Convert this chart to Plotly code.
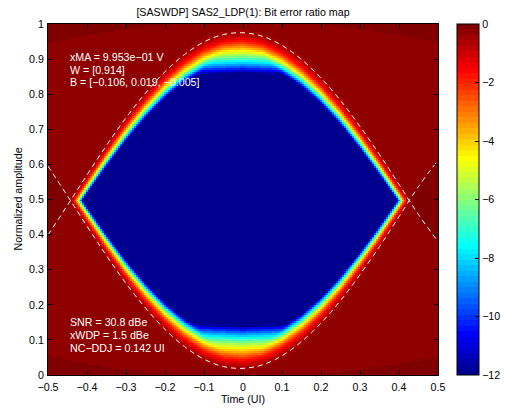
import math
import numpy as np
import plotly.graph_objects as go

# ---- data ----
time_pts = [-0.5, -0.45, -0.4, -0.35, -0.3, -0.25, -0.2, -0.15, -0.1, -0.05, 0.0,
            0.05, 0.1, 0.15, 0.2, 0.25, 0.3, 0.35, 0.4, 0.45, 0.5]
eye_upper = [0.399, 0.484, 0.570, 0.654, 0.733, 0.803, 0.864, 0.913, 0.949, 0.970, 0.975,
             0.965, 0.939, 0.899, 0.846, 0.782, 0.708, 0.628, 0.543, 0.457, 0.380]
eye_lower = [0.595, 0.510, 0.424, 0.340, 0.261, 0.191, 0.130, 0.081, 0.045, 0.024, 0.019,
             0.029, 0.055, 0.095, 0.148, 0.212, 0.286, 0.366, 0.451, 0.537, 0.612]
outer_time = [-0.5, -0.4, -0.3, -0.2, -0.1, 0.0, 0.1, 0.2, 0.3, 0.4, 0.5]
outer_upper = [0.930, 0.955, 0.972, 0.985, 0.993, 0.997, 0.993, 0.985, 0.972, 0.955, 0.935]
outer_lower = [0.070, 0.045, 0.028, 0.015, 0.007, 0.003, 0.007, 0.015, 0.028, 0.045, 0.065]
ber_min_log, ber_max_log = -12, 0
x_ticks = [-0.5, -0.4, -0.3, -0.2, -0.1, 0, 0.1, 0.2, 0.3, 0.4, 0.5]
y_ticks = [0, 0.1, 0.2, 0.3, 0.4, 0.5, 0.6, 0.7, 0.8, 0.9, 1]
cbar_ticks = [0, -2, -4, -6, -8, -10, -12]
title_text = "[SASWDP] SAS2_LDP(1): Bit error ratio map"
x_title = "Time (UI)"
y_title = "Normalized amplitude"
info_top = ["xMA = 9.953e\u221201 V", "W = [0.914]", "B = [\u22120.106, 0.019, \u22120.005]"]
info_bottom = ["SNR = 30.8 dBe", "xWDP = 1.5 dBe", "NC\u2212DDJ = 0.142 UI"]

# ---- BER map built from the eye contours ----
nx, ny = 195, 176
xs = -0.5 + (np.arange(nx) + 0.5) / nx
ys = (np.arange(ny) + 0.5) / ny
cu = np.interp(xs, time_pts, eye_upper)
cl = np.interp(xs, time_pts, eye_lower)
ou = np.interp(xs, outer_time, outer_upper)
ol = np.interp(xs, outer_time, outer_lower)
X, V = np.meshgrid(xs, ys)
CU = cu[None, :]; CL = cl[None, :]
OU = ou[None, :]; OL = ol[None, :]
S = 0.0075 + 0.0045 * np.clip(np.abs(V - 0.5) / 0.39, 0, 1)
erfc = np.vectorize(math.erfc)
def Q(a):
    return 0.5 * erfc(a / math.sqrt(2))
ber = 0.5 * Q((CU - V) / S) + 0.5 * Q((V - CL) / S) \
    + 0.2 * Q((OU - V) / 0.02) + 0.2 * Q((V - OL) / 0.02)
z = np.clip(np.log10(np.maximum(ber, 1e-14)), ber_min_log, ber_max_log)

# ---- MATLAB jet(64) colormap ----
def jet(m=64):
    n = math.ceil(m / 4)
    u = list(np.arange(1, n + 1) / n) + [1.0] * (n - 1) + list(np.arange(n, 0, -1) / n)
    g = [math.ceil(n / 2) - (1 if m % 4 == 1 else 0) + i for i in range(1, len(u) + 1)]
    r = [k + n for k in g]
    b = [k - n for k in g]
    g = [k for k in g if k <= m]
    r = [k for k in r if k <= m]
    b = [k for k in b if k >= 1]
    J = np.zeros((m, 3))
    for i, k in enumerate(r):
        J[k - 1, 0] = u[i]
    for i, k in enumerate(g):
        J[k - 1, 1] = u[i]
    for i, k in enumerate(b):
        J[k - 1, 2] = u[len(u) - len(b) + i]
    return J

J = jet(64)
cs = []
for i in range(64):
    c = "rgb(%d,%d,%d)" % tuple(int(round(v * 255)) for v in J[i])
    cs.append([i / 64, c])
    cs.append([(i + 1) / 64, c])

FS = 10.67
FONT = "Liberation Sans"
L, R, T, B = 48, 67, 24, 35
PW = 505 - L - R
PH = 410 - T - B

fig = go.Figure()
fig.add_trace(go.Heatmap(
    x=xs, y=ys, z=z, zmin=ber_min_log, zmax=ber_max_log, colorscale=cs,
    zsmooth=False,
    colorbar=dict(x=(457 - L) / PW, xanchor="left", xpad=0, thickness=22,
                  len=1, lenmode="fraction", y=0.5, ypad=0,
                  outlinecolor="black", outlinewidth=1,
                  tickvals=cbar_ticks, ticks="inside", ticklen=4, tickcolor="black",
                  tickfont=dict(size=FS, color="black", family=FONT)),
))
dash = dict(color="white", width=1, dash="5px,4px")
fig.add_trace(go.Scatter(x=time_pts, y=eye_upper, mode="lines", line=dict(shape="spline", **dash),
                         showlegend=False, hoverinfo="skip"))
fig.add_trace(go.Scatter(x=time_pts, y=eye_lower, mode="lines", line=dict(shape="spline", **dash),
                         showlegend=False, hoverinfo="skip"))

ann = []
for i, t in enumerate(info_top):
    ann.append(dict(x=(68 - L) / PW, y=(410 - B - (57 + 12.5 * i)) / PH, xref="paper", yref="paper", text=t,
                    showarrow=False, xanchor="left", yanchor="middle",
                    font=dict(size=FS, color="white", family=FONT)))
for i, t in enumerate(info_bottom):
    ann.append(dict(x=(68 - L) / PW, y=(410 - B - (322 + 13 * i)) / PH, xref="paper", yref="paper", text=t,
                    showarrow=False, xanchor="left", yanchor="middle",
                    font=dict(size=FS, color="white", family=FONT)))
# axis titles
ann.append(dict(x=0.5, y=-(399 - (410 - B)) / PH, xref="paper", yref="paper", text=x_title,
                showarrow=False, xanchor="center", yanchor="middle",
                font=dict(size=FS, color="black", family=FONT)))
ann.append(dict(x=-(L - 17) / PW, y=0.5, xref="paper", yref="paper", text=y_title, textangle=-90,
                showarrow=False, xanchor="center", yanchor="middle",
                font=dict(size=FS, color="black", family=FONT)))

axis_common = dict(showline=True, linecolor="black", linewidth=1, mirror="ticks",
                   ticks="inside", ticklen=4, tickcolor="black", showgrid=False, zeroline=False,
                   automargin=False,
                   tickfont=dict(size=FS, color="black", family=FONT))
fig.update_layout(
    width=505, height=410,
    margin=dict(l=L, r=R, t=T, b=B, autoexpand=False),
    paper_bgcolor="white", plot_bgcolor="white",
    font=dict(family=FONT, size=FS, color="black"),
    title=dict(text=title_text, x=(L + PW / 2) / 505, xanchor="center", y=1 - 12 / 410, yanchor="middle",
               font=dict(size=FS, color="black", family=FONT)),
    xaxis=dict(range=[-0.5, 0.5], tickvals=x_ticks, ticklabelstandoff=2, **axis_common),
    yaxis=dict(range=[0, 1], tickvals=y_ticks, ticklabelstandoff=1, **axis_common),
    annotations=ann,
    showlegend=False,
)
fig.write_html("out.html", config={"displayModeBar": False},
               post_script="document.body.style.margin='0';document.body.style.overflow='hidden';")
